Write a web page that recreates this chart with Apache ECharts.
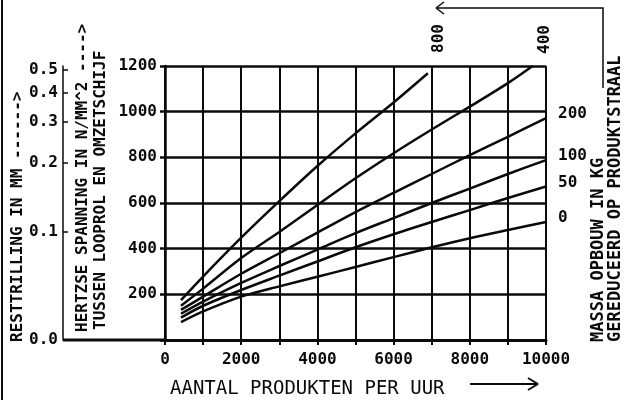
<!DOCTYPE html>
<html>
<head>
<meta charset="utf-8">
<script src="https://cdn.jsdelivr.net/npm/echarts@6/dist/echarts.min.js"></script>
<style>
  html, body { margin: 0; padding: 0; background: #fff; }
  #chart { width: 630px; height: 400px; }
</style>
</head>
<body>
<div id="chart"></div>
<script>
// Products per hour (x) against Hertz contact stress in N/mm^2 (y),
// one curve per accumulated mass on the product track (kg).
const massLabels = ['800', '400', '200', '100', '50', '0'];

const x800 = [420, 1000, 2000, 3000, 4000, 5000, 6000, 6900];
const y800 = [175, 278, 448, 608, 762, 905, 1040, 1168];

const x400 = [420, 1000, 2000, 3000, 4000, 5000, 6000, 7000, 8000, 9000, 9650];
const y400 = [150, 225, 359, 473, 591, 708, 818, 922, 1022, 1125, 1200];

const xFull = [420, 1000, 2000, 3000, 4000, 5000, 6000, 7000, 8000, 9000, 10000];
const y200 = [132, 190, 290, 380, 470, 560, 644, 727, 810, 890, 972];
const y100 = [115, 168, 250, 324, 396, 468, 534, 600, 663, 727, 788];
const y50  = [98, 150, 219, 282, 344, 406, 463, 517, 569, 622, 672];
const y0   = [78, 125, 190, 235, 277, 320, 363, 406, 446, 482, 517];

// Residual vibration scale (mm) and the stress value each mark lines up with
const trillingLabels = ['0.0', '0.1', '0.2', '0.3', '0.4', '0.5'];
const trillingAsStress = [0, 473, 775, 955, 1082, 1183];

const FONT = "'DejaVu Sans Mono', 'Liberation Mono', monospace";
const INK = '#0a0a0a';

const pairs = (xs, ys) => xs.map((x, i) => [x, ys[i]]);
const curves = [pairs(x800, y800), pairs(x400, y400), pairs(xFull, y200),
                pairs(xFull, y100), pairs(xFull, y50), pairs(xFull, y0)];

const chart = echarts.init(document.getElementById('chart'), null, { renderer: 'canvas' });

const series = curves.map((data, i) => ({
  name: massLabels[i],
  type: 'line',
  data: data,
  smooth: 0.3,
  symbol: 'none',
  lineStyle: { color: INK, width: 2.5 },
  z: 5,
  endLabel: i >= 2 ? {
    show: true,
    formatter: massLabels[i],
    color: INK,
    fontFamily: FONT,
    fontWeight: 'bold',
    fontSize: 16,
    distance: 12,
    offset: [0, -4]
  } : { show: false }
}));

chart.setOption({
  animation: false,
  backgroundColor: '#fff',
  grid: { left: 165, right: 84, top: 66, bottom: 60 },
  xAxis: {
    type: 'value',
    min: 0, max: 10000, interval: 1000,
    axisLine: { show: true, lineStyle: { color: INK, width: 3 } },
    axisTick: { show: true, length: 5, lineStyle: { color: INK, width: 2 } },
    splitLine: { show: true, lineStyle: { color: INK, width: 2 } },
    axisLabel: {
      color: INK, fontFamily: FONT, fontWeight: 'bold', fontSize: 16, margin: 12,
      formatter: v => (v % 2000 === 0 ? String(v) : '')
    }
  },
  yAxis: [
    {
      type: 'value',
      min: 0, max: 1200, interval: 200,
      axisLine: { show: true, lineStyle: { color: INK, width: 2.5 } },
      axisTick: { show: true, length: 5, lineStyle: { color: INK, width: 2.5 } },
      splitLine: { show: true, lineStyle: { color: INK, width: 2.5 } },
      axisLabel: {
        color: INK, fontFamily: FONT, fontWeight: 'bold', fontSize: 16, margin: 8,
        formatter: v => (v === 0 ? '' : String(v))
      }
    },
    {
      type: 'value',
      position: 'left',
      offset: 102,
      min: 0, max: 1200,
      axisLine: { show: true, onZero: false, lineStyle: { color: INK, width: 1.5 } },
      axisTick: { show: true, inside: true, length: 5, customValues: trillingAsStress,
                  lineStyle: { color: INK, width: 1.5 } },
      splitLine: { show: false },
      axisLabel: {
        customValues: trillingAsStress,
        color: INK, fontFamily: FONT, fontWeight: 'bold', fontSize: 16, margin: 5,
        formatter: v => {
          const k = trillingAsStress.indexOf(v);
          return k >= 0 ? trillingLabels[k] : '';
        }
      }
    }
  ],
  series: series
});

// Text, arrows and the 800 / 400 curve labels placed around the plot
function vText(text, x, y, size, weight) {
  return {
    type: 'text', x: x, y: y, rotation: Math.PI / 2, z: 10,
    style: { text: text, font: `${weight} ${size}px ${FONT}`, fill: INK,
             align: 'left', verticalAlign: 'middle' }
  };
}
function seg(x1, y1, x2, y2, w) {
  return { type: 'line', z: 10, shape: { x1, y1, x2, y2 },
           style: { stroke: INK, lineWidth: w || 1.5 } };
}

const origin = chart.convertToPixel({ xAxisIndex: 0, yAxisIndex: 0 }, [0, 0]);
const topY = chart.convertToPixel({ yAxisIndex: 0 }, 1200);
const end800 = chart.convertToPixel({ xAxisIndex: 0, yAxisIndex: 0 }, curves[0][curves[0].length - 1]);
const end400 = chart.convertToPixel({ xAxisIndex: 0, yAxisIndex: 0 }, curves[1][curves[1].length - 1]);

const graphics = [
  // page edge
  seg(2, 0, 2, 400, 2),
  // baseline running under the vibration scale
  seg(origin[0] - 102, origin[1], origin[0], origin[1], 3),
  // curve labels above the plot
  vText(massLabels[0], end800[0] + 11, topY - 13, 16, 'bold'),
  vText(massLabels[1], end400[0] + 12, topY - 12, 16, 'bold'),
  // axis titles
  vText('RESTTRILLING IN MM ------>', 18, 342, 16, 'bold'),
  vText('HERTZSE SPANNING IN N/MM^2 ---->', 83, 332, 16, 'bold'),
  vText('TUSSEN LOOPROL EN OMZETSCHIJF', 101, 330, 16, 'bold'),
  vText('MASSA OPBOUW IN KG', 599, 342, 17, 'bold'),
  vText('GEREDUCEERD OP PRODUKTSTRAAL', 616, 342, 17, 'bold'),
  {
    type: 'text', x: 170, y: 389, z: 10,
    style: { text: 'AANTAL PRODUKTEN PER UUR', font: `19px ${FONT}`, fill: INK,
             align: 'left', verticalAlign: 'middle' }
  },
  // arrow after the x title
  seg(470, 384, 538, 384, 2),
  seg(538, 384, 528, 378, 2),
  seg(538, 384, 528, 390, 2),
  // arrow over the top of the plot
  { type: 'polyline', z: 10, shape: { points: [[603, 88], [603, 8], [436, 8]] },
    style: { stroke: INK, lineWidth: 1.5, fill: null } },
  seg(436, 8, 444, 2, 1.5),
  seg(436, 8, 444, 14, 1.5)
];

chart.setOption({ graphic: graphics });
</script>
</body>
</html>
